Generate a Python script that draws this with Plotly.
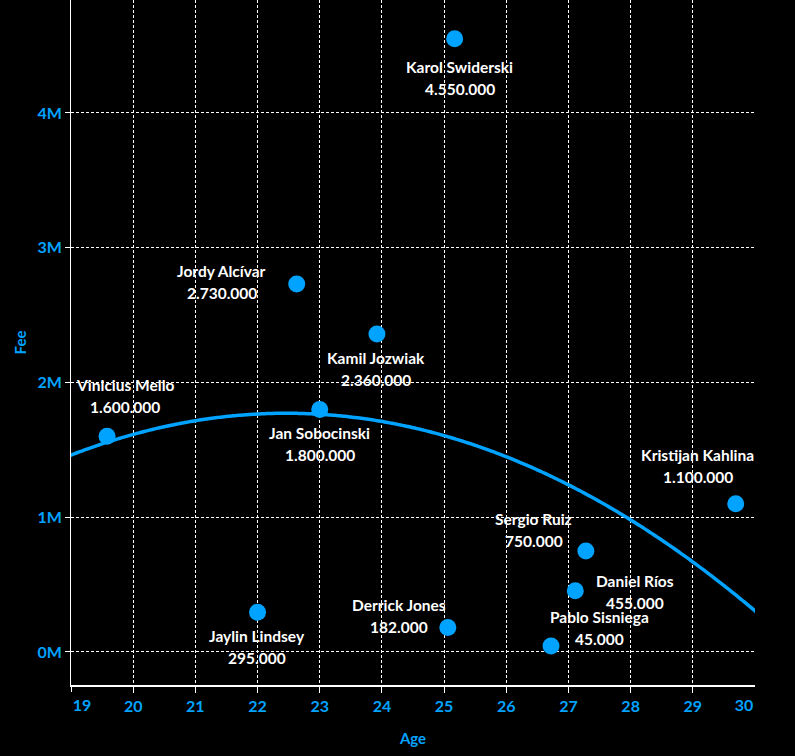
import numpy as np
import plotly.graph_objects as go

# ---- data ----
players = ["Vinicius Mello", "Jaylin Lindsey", "Jordy Alcívar", "Jan Sobocinski",
           "Kamil Jozwiak", "Derrick Jones", "Karol Swiderski", "Pablo Sisniega",
           "Daniel Ríos", "Sergio Ruiz", "Kristijan Kahlina"]
ages = [19.58, 22.0, 22.63, 23.0, 23.92, 25.06, 25.17, 26.72, 27.11, 27.28, 29.69]
fees = [1600000, 295000, 2730000, 1800000, 2360000, 182000, 4550000, 45000,
        455000, 750000, 1100000]

x_tick_vals = [20, 21, 22, 23, 24, 25, 26, 27, 28, 29]
x_tick_text = ["20", "21", "22", "23", "24", "25", "26", "27", "28", "29"]
x_first_tick = [19]
x_last_tick = [30]
y_tick_vals = [0, 1000000, 2000000, 3000000, 4000000]
y_tick_text = ["0M", "1M", "2M", "3M", "4M"]

# ---- label placement (pixel offsets of label block centre from point) ----
label_dx = [18, -1, -75, 0, -1, -49, 5, 48, 60, -52, -38]
label_dy = [40, -35, 2, -35, -35, 11, -39, 18, -1, 21, 38]

BLUE = "#00A3FF"
FONT = "Lato"

# quadratic trend line fitted to the data
coef = np.polyfit(ages, fees, 2)
xs = np.linspace(18.8, 30.2, 200)
ys = np.polyval(coef, xs)

fig = go.Figure()
fig.add_trace(go.Scatter(x=xs, y=ys, mode="lines",
                         line=dict(color=BLUE, width=3.5, shape="spline"),
                         hoverinfo="skip", showlegend=False))
fig.add_trace(go.Scatter(x=ages, y=fees, mode="markers",
                         marker=dict(color=BLUE, size=17, line=dict(width=0)),
                         text=players, showlegend=False))
# helper traces to render the edge-tick axes
fig.add_trace(go.Scatter(x=[None], y=[None], xaxis="x2", showlegend=False, hoverinfo="skip"))
fig.add_trace(go.Scatter(x=[None], y=[None], xaxis="x3", showlegend=False, hoverinfo="skip"))

annotations = []
for name, a, f, dx, dy in zip(players, ages, fees, label_dx, label_dy):
    val = f"{f:,}".replace(",", ".")
    for txt, off in ((name, dy + 11), (val, dy - 11)):
        annotations.append(dict(x=a, y=f, xref="x", yref="y", text=txt,
                                showarrow=False, xanchor="center", yanchor="middle",
                                xshift=dx, yshift=off,
                                font=dict(family=FONT, size=15.5, color="white", weight="bold")))

grid = dict(showgrid=True, gridcolor="white", gridwidth=1, griddash="3px,2px")
tickfont = dict(family=FONT, size=16, color=BLUE, weight="bold")
titlefont = dict(family=FONT, size=15, color=BLUE, weight="bold")

fig.update_layout(
    width=795, height=756,
    margin=dict(l=71, r=40, t=0, b=71),
    paper_bgcolor="black", plot_bgcolor="black",
    font=dict(family=FONT),
    annotations=annotations,
    xaxis=dict(range=[19, 30], automargin=False, tickmode="array",
               tickvals=x_tick_vals, ticktext=x_tick_text,
               ticks="outside", ticklen=6, tickcolor="white", tickwidth=1,
               tickfont=tickfont, zeroline=False, **grid,
               showline=True, linecolor="white", linewidth=2,
               title=dict(text="Age", font=titlefont, standoff=19)),
    xaxis2=dict(range=[19, 30], automargin=False, overlaying="x", matches="x",
                showgrid=False, showline=False, zeroline=False, tickmode="array",
                tickvals=x_first_tick, ticktext=[str(v) for v in x_first_tick],
                ticks="outside", ticklen=6, tickcolor="white", tickwidth=1,
                tickfont=tickfont, ticklabelshift=11),
    xaxis3=dict(range=[19, 30], automargin=False, overlaying="x", matches="x",
                **grid, showline=False, zeroline=False, tickmode="array",
                tickvals=x_last_tick, ticktext=[str(v) for v in x_last_tick],
                ticks="outside", ticklen=6, tickcolor="rgba(0,0,0,0)",
                tickfont=tickfont, ticklabelshift=-11),
    yaxis=dict(range=[-245000, 4838000], automargin=False, tickmode="array",
               tickvals=y_tick_vals, ticktext=y_tick_text,
               ticks="outside", ticklen=5, tickcolor="white",
               tickfont=tickfont, zeroline=False, **grid,
               showline=True, linecolor="white", linewidth=1,
               title=dict(text="Fee", font=titlefont, standoff=7)),
)

fig.write_html("out.html", config={"displayModeBar": False},
               post_script="document.body.style.margin='0';document.body.style.background='black';")
